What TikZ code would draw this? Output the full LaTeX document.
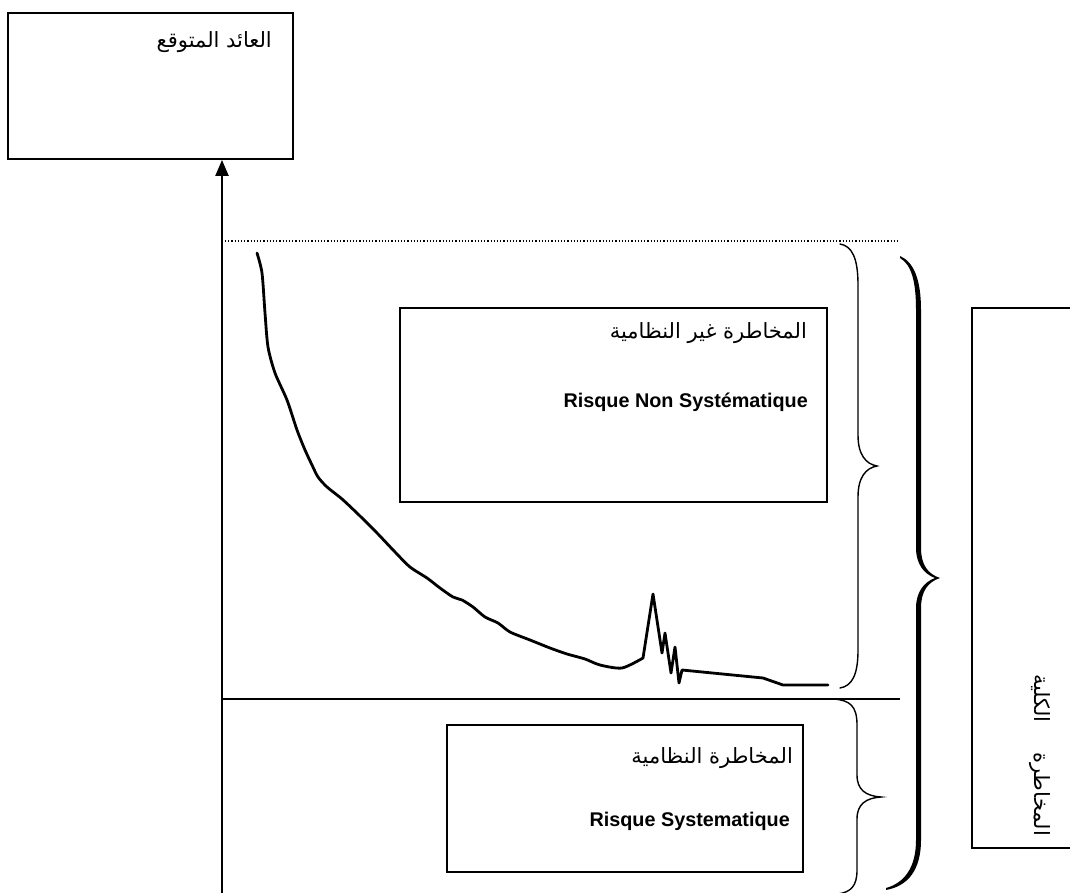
\documentclass[tikz,border=0pt]{standalone}
\usepackage{fontspec}
\setmainfont{Liberation Sans}
\newfontfamily\arabicfont[Script=Arabic]{DejaVu Sans}
\TeXXeTstate=1
\usetikzlibrary{arrows.meta}

\begin{document}
\begin{tikzpicture}[x=1pt,y=-1pt,
  box/.style={draw=black, line width=1.8pt, inner sep=0pt},
  artext/.style={font=\arabicfont\fontsize{21}{24}\selectfont, inner sep=0pt},
  latext/.style={font=\bfseries\fontsize{19.8}{23}\selectfont, inner sep=0pt},
  thinbrace/.style={line width=1.4pt, line cap=round},
  riskcurve/.style={line width=2.8pt, line join=round, line cap=round},
]
\useasboundingbox (0,0) rectangle (1070,893);

% boxes
\node[box, minimum width=285pt, minimum height=146pt] (ret) at (150.5,86) {};
\node[box, minimum width=427pt, minimum height=194pt] (unsys) at (613.5,405) {};
\node[box, minimum width=356pt, minimum height=147pt] (sys) at (625,798.5) {};
\node[box, minimum width=120pt, minimum height=540pt, anchor=north west] (total) at (971,307) {};

% labels
\node[artext, anchor=east] (retlbl) at (272,42) {\beginR العائد المتوقع\endR};
\node[artext, anchor=east] (unsysar) at (807,333) {\beginR المخاطرة غير النظامية\endR};
\node[latext, anchor=base east] (unsysfr) at (808,407) {Risque Non Systématique};
\node[artext, anchor=east] (sysar) at (793,758) {\beginR المخاطرة النظامية\endR};
\node[latext, anchor=base east] (sysfr) at (790,826) {Risque Systematique};
\node[artext, rotate=-90] (totlbl) at (1040,755) {\beginR المخاطرة\hspace{30pt}الكلية\endR};

% return axis
\coordinate (ax) at (222,893);
\draw[line width=2.2pt, -{Triangle[length=16pt,width=13pt]}] (ax) -- (ax |- ret.south);

% upper limit (dotted) and split line
\coordinate (dl) at (225,241);
\coordinate (dr) at (898,241);
\draw[dotted, line width=1.2pt] (dl) -- (dr);
\coordinate (sl) at (222,699);
\coordinate (sr) at (900,699);
\draw[line width=1.6pt] (sl) -- (sr);

% total risk curve
\draw[riskcurve] plot[smooth, tension=0.45] coordinates {
  (257,253) (262,273) (265,313) (268,347) (275,373) (287,400) (297,430)
  (305,450) (312,465) (318,477) (327,487) (342,499) (360,516) (378,534)
  (395,552) (410,567) (427,578) (440,588) (453,597) (462,600) (473,607)
  (485,617) (498,623) (510,632) (530,640) (550,648) (567,654) (585,659)
  (600,665) (622,668) (643,658)}
  -- (653,594) -- (662,653) -- (665,633) -- (671,673) -- (675,647)
  -- (679,683) -- (682,670) -- (763,678) -- (783,685) -- (828,685);

% brace over the non-systematic part
\draw[thinbrace] (840,244) .. controls (852,246) and (858,258) .. (858,285)
  -- (858,435) .. controls (858,455) and (866,464) .. (877,466)
  .. controls (866,468) and (858,477) .. (858,497)
  -- (858,650) .. controls (858,675) and (852,686) .. (840,688);

% brace over the systematic part
\draw[thinbrace] (833,699) .. controls (850,700) and (857,706) .. (857,725)
  -- (857,775) .. controls (857,790) and (866,796) .. (881,797)
  .. controls (866,798) and (857,804) .. (857,819)
  -- (857,870) .. controls (857,886) and (851,892) .. (838,894);

% large brace over the total risk
\fill (900,256) .. controls (914,262) and (921,280) .. (921,310)
  -- (921,548) .. controls (921,565) and (928,574) .. (940,578)
  .. controls (928,582) and (921,591) .. (921,608)
  -- (921,840) .. controls (921,870) and (908,886) .. (886,890)
  -- (886,888) .. controls (904,883) and (916,868) .. (916,840)
  -- (916,608) .. controls (916,592) and (924,582) .. (935,578)
  .. controls (924,574) and (916,564) .. (916,548)
  -- (916,310) .. controls (916,283) and (912,265) .. (900,258) -- cycle;
\end{tikzpicture}
\end{document}
